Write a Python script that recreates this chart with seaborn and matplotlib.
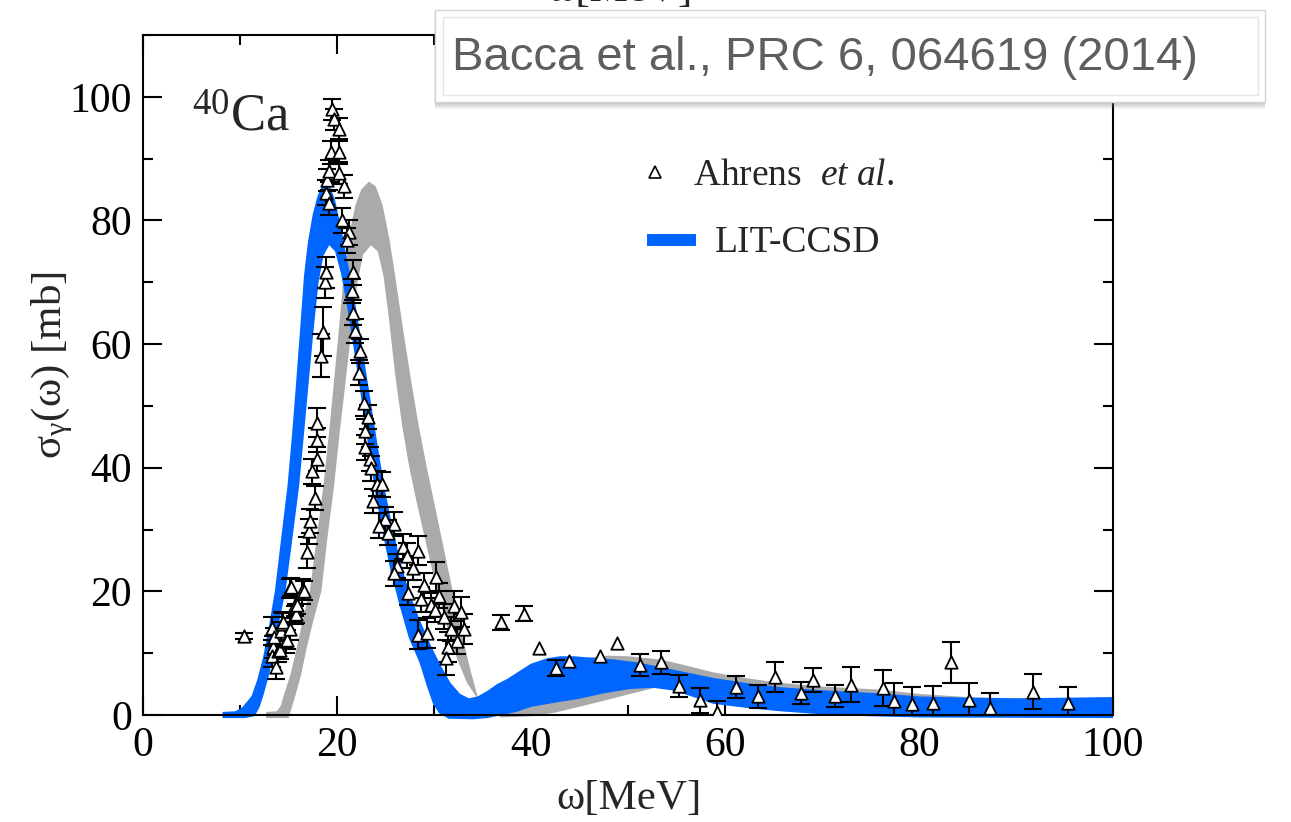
import matplotlib
matplotlib.use("Agg")
import matplotlib.pyplot as plt
from matplotlib.patches import Rectangle
from matplotlib.ticker import MultipleLocator
import pandas as pd
import seaborn as sns

# LIT-CCSD band (blue): upper and lower edges
ccsd_up_x = [8.2, 9.5, 10.2, 10.8, 11.2, 11.8, 12.4, 13.0, 13.6, 14.2, 14.9, 15.4, 15.8, 16.2,
             16.6, 17.0, 17.5, 18.0, 18.4, 18.8, 19.3, 19.8, 20.4, 21.0, 21.4, 22.0, 22.6, 23.2,
             23.8, 24.4, 25.0, 25.7, 26.5, 27.4, 28.5, 29.6, 30.7, 31.7, 32.7, 33.6, 34.5, 35.5,
             36.5, 37.5, 38.5, 40.0, 41.7, 43.0, 44.5, 46.0, 48.5, 51.0, 53.6, 56.0, 58.8, 62.5,
             65.7, 70.0, 76.0, 80.0, 85.0, 90.0, 95.0, 100.0]
ccsd_up_y = [0.5, 0.6, 1.2, 2.3, 3.1, 5.8, 9.5, 14.5, 20.1, 28.0, 37.1, 46.0, 54.1, 62.5,
             71.1, 76.5, 81.0, 84.0, 85.4, 86.0, 85.4, 83.3, 79.0, 74.0, 71.0, 65.5, 59.5, 53.5,
             47.5, 41.5, 36.0, 30.5, 25.0, 20.0, 15.5, 11.5, 8.0, 5.2, 3.4, 2.7, 3.0, 3.9,
             5.0, 5.8, 6.8, 8.3, 9.2, 9.5, 9.5, 9.3, 9.0, 8.5, 7.7, 6.9, 6.0, 5.1,
             4.5, 4.0, 3.5, 3.0, 2.8, 2.7, 2.8, 2.9]
ccsd_lo_x = [8.2, 10.5, 11.5, 12.0, 12.4, 13.0, 13.6, 14.1, 14.7, 15.4, 16.1, 16.6, 17.1, 17.6,
             18.1, 18.6, 19.2, 19.8, 20.4, 21.0, 21.6, 22.2, 22.8, 23.4, 24.0, 24.7, 25.5, 26.4,
             27.4, 28.5, 29.3, 29.9, 30.5, 31.5, 34.0, 35.5, 37.0, 38.5, 40.0, 42.5, 44.9, 47.5,
             50.2, 52.6, 54.5, 56.0, 58.8, 62.5, 65.7, 70.0, 75.0, 80.0, 100.0]
ccsd_lo_y = [-0.5, -0.5, -0.2, 1.2, 3.1, 6.5, 11.0, 15.5, 20.1, 28.5, 37.1, 45.5, 54.1, 62.5,
             70.0, 74.3, 76.0, 75.0, 71.5, 66.5, 60.5, 54.5, 48.0, 41.5, 35.5, 29.5, 23.5, 18.0,
             12.5, 8.5, 4.5, 1.8, 0.3, -0.6, -0.7, -0.5, 0.0, 0.5, 1.3, 2.0, 2.6, 3.5,
             4.2, 4.4, 4.0, 3.3, 1.8, 1.1, 0.6, 0.1, -0.2, -0.4, -0.5]

# Comparison band (gray): upper and lower edges
ref_up_x = [12.7, 13.8, 14.2, 14.5, 15.2, 15.8, 16.5, 17.2, 17.9, 18.6, 19.2, 19.7, 20.2, 20.7,
            21.3, 21.9, 22.5, 23.3, 24.0, 24.7, 25.4, 26.0, 26.8, 27.6, 28.4, 29.2, 30.0, 30.8,
            31.6, 32.4, 33.1, 33.8, 34.5, 35.5, 36.5, 38.0, 40.0, 42.0, 44.0, 46.0, 48.0, 50.0,
            52.0, 53.6, 56.0, 58.8, 62.0, 65.7, 70.0, 76.0, 80.0, 85.0, 90.0, 95.0, 100.0]
ref_up_y = [0.5, 0.6, 1.5, 3.1, 6.5, 10.5, 15.5, 20.1, 28.5, 37.1, 46.0, 54.1, 62.5, 71.1,
            78.0, 82.5, 85.0, 86.3, 85.5, 82.5, 77.0, 71.0, 62.5, 54.5, 47.0, 40.5, 34.5, 28.5,
            22.5, 16.5, 11.5, 7.0, 3.0, 3.0, 3.6, 4.8, 6.3, 7.6, 8.6, 9.3, 9.6, 9.5,
            9.2, 8.9, 8.0, 6.9, 6.0, 5.2, 4.6, 4.1, 3.4, 2.9, 2.7, 2.7, 2.8]
ref_lo_x = [12.7, 15.0, 15.3, 15.7, 16.3, 16.9, 17.6, 18.4, 19.0, 19.7, 20.3, 20.9, 21.5, 22.1,
            22.7, 23.5, 24.2, 24.8, 25.4, 26.0, 26.7, 27.4, 28.2, 29.0, 29.8, 30.6, 31.5, 32.4,
            33.4, 34.5, 35.5, 37.0, 40.0, 42.5, 44.9, 47.5, 50.2, 52.8, 54.5, 56.0, 58.8, 62.5,
            65.7, 70.0, 75.0, 80.0, 100.0]
ref_lo_y = [-0.5, -0.5, 1.0, 3.1, 6.5, 11.0, 15.5, 20.1, 28.5, 37.1, 46.0, 54.1, 62.5, 70.0,
            74.5, 76.0, 75.0, 71.0, 63.5, 55.0, 47.0, 40.5, 34.5, 29.0, 23.5, 18.5, 13.5, 9.0,
            5.2, 2.6, 0.6, -0.4, -0.2, 0.4, 1.3, 2.3, 3.4, 4.4, 4.1, 3.5, 2.0, 1.3,
            0.8, 0.3, 0.0, -0.2, -0.3]

# Ahrens et al. photoabsorption data: energy, cross section, error (0 = no bar)
ahrens_w = [10.4, 13.3, 13.4, 13.3, 13.7, 13.9, 13.5, 14.1, 14.2, 14.3, 14.4, 14.7, 14.8, 15.2,
            15.2, 15.3, 15.7, 15.7, 15.8, 15.9, 16.4, 16.6,
            16.9, 17.1, 17.2, 17.7, 17.4, 17.9, 17.9, 17.9, 18.3, 18.6, 18.8, 18.9,
            18.9, 19.2, 19.0, 19.2, 19.4, 19.5, 19.7, 20.2, 20.2, 20.2, 20.7, 20.5, 21.2, 21.0,
            21.6, 21.5, 21.7, 21.9, 22.4, 22.3, 22.8, 23.2, 22.9, 22.9, 23.4, 23.5, 24.1, 24.6,
            23.7, 24.9, 24.3, 25.9, 25.3, 26.8, 26.2, 27.2, 28.4, 25.9, 27.8, 27.3, 29.0, 30.2,
            28.7, 29.7, 30.5, 30.1, 31.0, 32.1, 32.8, 31.8, 33.1, 32.4, 28.4, 29.3, 31.4, 31.2,
            36.9, 39.3, 40.8, 42.6, 43.9, 47.1, 48.9, 51.2, 53.4, 55.3, 57.4, 59.2, 61.1, 63.4,
            65.2, 67.8, 69.1, 71.3, 73.0, 76.3, 77.4, 79.3, 81.4, 83.3, 85.2, 87.3, 91.8, 95.4]
ahrens_sigma = [12.8, 14.0, 11.0, 9.6, 7.8, 10.3, 12.6, 10.5, 13.6, 14.8, 15.0, 11.9, 12.2, 13.9,
                20.5, 20.7, 17.8, 16.2, 16.4, 17.8, 20.0, 20.1,
                26.3, 29.7, 31.4, 35.1, 39.4, 41.4, 44.5, 47.3, 58.1, 62.0, 70.0, 71.6,
                84.5, 82.9, 86.6, 88.0, 91.0, 98.0, 96.4, 94.8, 91.0, 87.7, 85.5, 80.0, 78.1, 76.8,
                71.6, 68.6, 65.1, 62.1, 58.9, 55.4, 50.4, 48.2, 45.9, 43.3, 41.4, 39.9, 37.4, 37.3,
                34.6, 31.7, 30.6, 30.9, 29.5, 27.2, 24.1, 25.8, 26.6, 22.9, 23.8, 19.8, 21.0, 22.4,
                18.7, 17.8, 19.3, 17.0, 15.9, 17.6, 16.7, 13.9, 13.9, 11.9, 13.0, 13.3, 11.0, 9.3,
                15.0, 16.4, 10.9, 7.6, 8.8, 9.6, 11.7, 8.1, 8.5, 4.7, 2.4, 0.5, 4.5, 3.0,
                6.2, 3.6, 5.7, 3.1, 4.9, 4.3, 2.3, 1.8, 1.9, 8.5, 2.4, 1.2, 3.8, 1.9]
ahrens_err = [0.5, 1.9, 1.8, 1.8, 1.9, 1.8, 1.5, 1.5, 1.5, 1.8, 1.5, 1.8, 1.5, 1.8,
              1.5, 1.5, 1.8, 1.5, 1.5, 1.5, 2.0, 1.5,
              2.5, 2.0, 2.0, 2.0, 2.0, 2.0, 2.0, 2.4, 3.5, 4.0, 2.5, 2.5,
              2.0, 2.0, 1.8, 1.8, 1.8, 1.7, 1.7, 1.7, 1.8, 1.8, 1.8, 2.0, 2.0, 2.0,
              2.0, 2.0, 2.0, 2.0, 2.0, 2.0, 2.0, 2.0, 2.0, 2.0, 2.0, 2.0, 2.0, 2.0,
              2.0, 2.0, 2.0, 2.0, 2.0, 2.0, 2.0, 2.0, 2.4, 2.0, 2.0, 2.0, 2.0, 2.4,
              2.0, 2.0, 2.0, 2.0, 2.0, 2.4, 2.4, 2.0, 2.4, 2.0, 2.4, 2.4, 2.4, 2.8,
              1.2, 1.2, 0.0, 1.3, 0.0, 0.0, 0.0, 1.8, 1.8, 1.8, 2.0, 1.8, 1.8, 1.9,
              2.4, 1.8, 1.9, 1.8, 2.8, 2.9, 2.8, 2.8, 2.8, 3.3, 2.8, 2.4, 2.8, 2.7]

legend_labels = [r"Ahrens  $\mathit{et\ al}$.", "LIT-CCSD"]

BLUE = "#0066ff"
GRAY = "#aaaaaa"
W, H = 1291, 822

sns.set_theme(style="ticks")
plt.rcParams["font.family"] = ["Liberation Serif", "DejaVu Serif"]
plt.rcParams["mathtext.fontset"] = "custom"
plt.rcParams["mathtext.rm"] = "Liberation Serif"
plt.rcParams["mathtext.it"] = "Liberation Serif:italic"
plt.rcParams["mathtext.bf"] = "Liberation Serif:bold"


def px(x, y):
    """Pixel position (from the top-left corner) to figure fraction."""
    return x / W, 1 - y / H


fig = plt.figure(figsize=(W / 100, H / 100), dpi=100)
AX_L, AX_T, AX_W, AX_H = 143, 35, 970, 680
ax = fig.add_axes([AX_L / W, 1 - (AX_T + AX_H) / H, AX_W / W, AX_H / H])


def axfrac(x, y):
    """Pixel position to axes fraction."""
    return (x - AX_L) / AX_W, (AX_T + AX_H - y) / AX_H


def band(upx, upy, lox, loy, color, z):
    xs = list(upx) + list(lox)[::-1]
    ys = list(upy) + list(loy)[::-1]
    ax.fill(xs, ys, color=color, lw=0, zorder=z, clip_on=False)


band(ref_up_x, ref_up_y, ref_lo_x, ref_lo_y, GRAY, 1)
band(ccsd_up_x, ccsd_up_y, ccsd_lo_x, ccsd_lo_y, BLUE, 2)

df = pd.DataFrame({"omega": ahrens_w, "sigma": ahrens_sigma, "err": ahrens_err})
bars = df[df["err"] > 0]
ax.errorbar(bars["omega"], bars["sigma"], yerr=bars["err"], fmt="none", ecolor="black",
            elinewidth=1.5, capsize=6.5, capthick=1.5, zorder=3)
sns.scatterplot(data=df, x="omega", y="sigma", marker="^", s=80, color="white",
                edgecolor="black", linewidth=1.3, zorder=5, ax=ax, legend=False)

ax.set_xlim(0, 100)
ax.set_ylim(0, 110)
ax.xaxis.set_major_locator(MultipleLocator(20))
ax.xaxis.set_minor_locator(MultipleLocator(10))
ax.yaxis.set_major_locator(MultipleLocator(20))
ax.yaxis.set_minor_locator(MultipleLocator(10))
ax.tick_params(which="both", direction="in", top=True, right=True, width=1.5,
               labelsize=30, pad=8, colors="black")
ax.tick_params(which="major", length=13.5)
ax.tick_params(which="minor", length=7)
for sp in ax.spines.values():
    sp.set_linewidth(1.5)
    sp.set_color("black")
    sp.set_visible(True)

ax.set_xlabel("ω[MeV]", fontsize=31)
ax.xaxis.set_label_coords(0.501, -0.095)
ax.set_ylabel(r"σ$_\mathregular{γ}$(ω) [mb]", fontsize=31)
ax.yaxis.set_label_coords(-0.07, 0.515)

ax.text(5.0, 94.5, r"$^{\mathregular{40}}$Ca", fontsize=38, ha="left", va="baseline")

# key for the two data sets
ax.plot(*axfrac(655, 172), marker="^", ls="none", mfc="white", mec="black", ms=9, mew=1.2,
        transform=ax.transAxes, zorder=6, clip_on=False)
(bx0, by), (bx1, _) = axfrac(647, 240), axfrac(696, 240)
ax.plot([bx0, bx1], [by, by], color=BLUE, lw=8.6, solid_capstyle="butt",
        transform=ax.transAxes, zorder=6)
ax.text(*axfrac(693, 185), legend_labels[0], fontsize=27, ha="left", va="baseline",
        transform=ax.transAxes)
ax.text(*axfrac(715, 252), legend_labels[1], fontsize=27, ha="left", va="baseline",
        transform=ax.transAxes)

# citation box with soft shadow
for i in range(1, 8):
    x0, y0 = px(435 - 1 + i * 0.2, 102 + i)
    sh = Rectangle((x0, y0), (832 - i * 0.4) / W, 92 / H, transform=fig.transFigure,
                   facecolor="#808080", edgecolor="none", alpha=0.08, zorder=20)
    fig.add_artist(sh)
x0, y0 = px(435, 102)
fig.add_artist(Rectangle((x0, y0), 830 / W, 92 / H, transform=fig.transFigure,
                         facecolor="white", edgecolor="#d4d4d4", lw=1.0, zorder=21))
x0, y0 = px(443, 95)
fig.add_artist(Rectangle((x0, y0), 815 / W, 78 / H, transform=fig.transFigure,
                         facecolor="white", edgecolor="#e4e4e4", lw=1.0, zorder=22))
tx, ty = px(452, 58)
fig.text(tx, ty, "Bacca et al., PRC 6, 064619 (2014)", fontsize=34,
         family=["Liberation Sans", "DejaVu Sans"], color="#5e5e5e", ha="left", va="center",
         zorder=23)

# axis title of the panel above, cut by the top edge
tx, ty = px(620, 1)
fig.text(tx, ty, "ω[MeV]", fontsize=31, ha="center", va="baseline", zorder=19)

fig.savefig("out.png", dpi=100)
